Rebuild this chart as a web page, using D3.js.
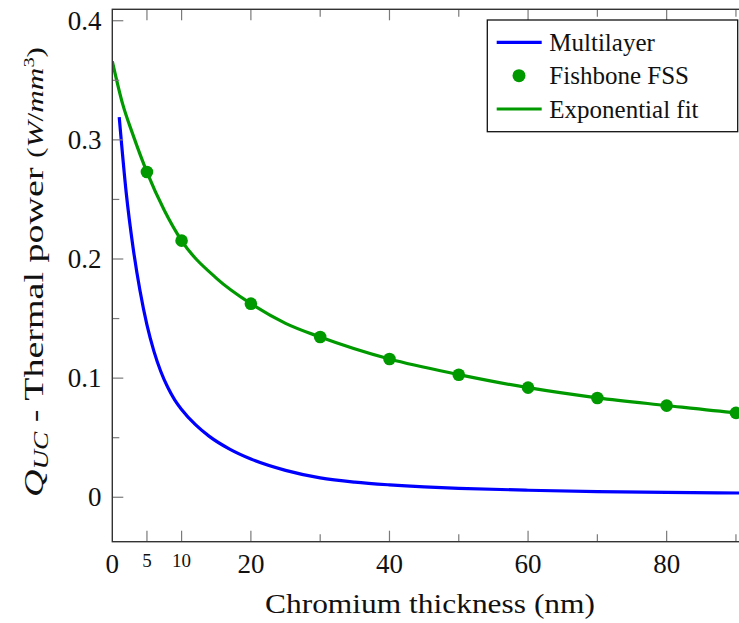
<!DOCTYPE html>
<html>
<head>
<meta charset="utf-8">
<script src="https://cdn.jsdelivr.net/npm/d3@7"></script>
<style>
body { margin: 0; background: #fff; }
text { font-family: "Liberation Serif", "DejaVu Serif", serif; fill: #111; }
</style>
</head>
<body>
<script>
width = 739;
height = 623;

// data
var multiX = [1, 2, 3, 4, 5, 6, 7, 8, 9, 10, 12, 14, 17, 20, 25, 30, 35, 40, 45, 50, 60, 70, 80, 92];
var multiY = [0.319, 0.256, 0.2095, 0.1733, 0.1447, 0.1227, 0.1056, 0.0923, 0.0818, 0.0737, 0.0609, 0.0511, 0.0402, 0.0321, 0.0226, 0.0163, 0.0127, 0.0104, 0.0087, 0.0075, 0.0059, 0.0048, 0.0041, 0.0035];

var fssX = [5, 10, 20, 30, 40, 50, 60, 70, 80, 90];
var fssY = [0.2730, 0.2154, 0.1625, 0.1345, 0.1161, 0.1029, 0.0920, 0.0833, 0.0769, 0.0708];

var fitX = [0, 1.5, 3, 5, 7.5, 10, 15, 20, 25, 30, 40, 50, 60, 70, 80, 90, 92];
var fitY = [0.366, 0.330, 0.304, 0.273, 0.241, 0.2155, 0.184, 0.1625, 0.146, 0.1345, 0.116, 0.103, 0.092, 0.0835, 0.077, 0.0708, 0.0697];

var xMajor = [0, 5, 10, 20, 40, 60, 80];
var xMinor = [30, 50, 70, 90];
var xSmall = [5, 10];
var yMajor = [0, 0.1, 0.2, 0.3, 0.4];
var yMinor = [0.05, 0.15, 0.25, 0.35];

var legendNames = ['Multilayer', 'Fishbone FSS', 'Exponential fit'];

var blue = '#0000ff', green = '#009a00';

svg = d3.select('body')
    .append('svg')
    .attr('width', width)
    .attr('height', height)

var pL = 112.3, pR = 750.5, pT = 9.3, pB = 541.7;

//scales
var xScale = d3.scaleLinear()
    .domain([0, 92.1])
    .range([pL, pR])

var yScale = d3.scaleLinear()
    .domain([-0.0373, 0.4096])
    .range([pB, pT])

svg.append('clipPath')
    .attr('id', 'plot')
    .append('rect')
    .attr('x', pL).attr('y', pT)
    .attr('width', pR - pL).attr('height', pB - pT)

var g = svg.append('g').attr('clip-path', 'url(#plot)')

var line = d3.line()
    .x(d => xScale(d[0]))
    .y(d => yScale(d[1]))
    .curve(d3.curveMonotoneX)

//lines
g.append('path')
    .datum(d3.zip(multiX, multiY))
    .attr('d', line)
    .attr('fill', 'none')
    .attr('stroke', blue)
    .attr('stroke-width', 3.2)

g.append('path')
    .datum(d3.zip(fitX, fitY))
    .attr('d', line)
    .attr('fill', 'none')
    .attr('stroke', green)
    .attr('stroke-width', 3.2)

g.selectAll('circle.fss')
    .data(d3.zip(fssX, fssY))
    .enter().append('circle')
    .attr('class', 'fss')
    .attr('cx', d => xScale(d[0]))
    .attr('cy', d => yScale(d[1]))
    .attr('r', 6.3)
    .attr('fill', green)

//ticks
var tickCol = '#7a7a7a';
function xTicks(vals, len) {
    vals.forEach(function(v) {
        svg.append('line')
            .attr('x1', xScale(v)).attr('x2', xScale(v))
            .attr('y1', pB).attr('y2', pB - len)
            .attr('stroke', tickCol).attr('stroke-width', 1.2)
        svg.append('line')
            .attr('x1', xScale(v)).attr('x2', xScale(v))
            .attr('y1', pT).attr('y2', pT + len)
            .attr('stroke', tickCol).attr('stroke-width', 1.2)
    })
}
xTicks(xMajor.filter(v => v > 0), 11)
xTicks(xMinor, 7.5)

function yTicks(vals, len) {
    vals.forEach(function(v) {
        svg.append('line')
            .attr('x1', pL).attr('x2', pL + len)
            .attr('y1', yScale(v)).attr('y2', yScale(v))
            .attr('stroke', tickCol).attr('stroke-width', 1.2)
    })
}
yTicks(yMajor, 11)
yTicks(yMinor, 7)

//axis frame
svg.append('rect')
    .attr('x', pL).attr('y', pT)
    .attr('width', pR - pL).attr('height', pB - pT)
    .attr('fill', 'none')
    .attr('stroke', '#333')
    .attr('stroke-width', 1.4)

//tick labels
svg.selectAll('text.xl')
    .data(xMajor)
    .enter().append('text')
    .attr('class', 'xl')
    .attr('x', d => xScale(d))
    .attr('y', d => xSmall.includes(d) ? 567 : 573)
    .attr('text-anchor', 'middle')
    .attr('font-size', d => xSmall.includes(d) ? 19 : 27)
    .text(d => d)

svg.selectAll('text.yl')
    .data(yMajor)
    .enter().append('text')
    .attr('class', 'yl')
    .attr('x', 101.5)
    .attr('y', d => yScale(d) + 9)
    .attr('text-anchor', 'end')
    .attr('font-size', 27)
    .text(d => d === 0 ? '0' : d.toFixed(1))

//axis labels
svg.append('text')
    .attr('x', 430)
    .attr('y', 613)
    .attr('text-anchor', 'middle')
    .attr('font-size', 28)
    .attr('textLength', 330)
    .attr('lengthAdjust', 'spacingAndGlyphs')
    .text('Chromium thickness (nm)')

var yl = svg.append('text')
    .attr('transform', 'translate(43,' + 272 + ') rotate(-90)')
    .attr('text-anchor', 'middle')
    .attr('font-size', 28)
    .attr('textLength', 450)
    .attr('lengthAdjust', 'spacingAndGlyphs')
yl.append('tspan').attr('font-style', 'italic').text('Q')
yl.append('tspan').attr('font-style', 'italic').attr('font-size', 20).attr('dy', 5).text('UC')
yl.append('tspan').attr('dy', -5).text(' - Thermal power ')
yl.append('tspan').attr('font-size', 23).text('(')
yl.append('tspan').attr('font-size', 23).attr('font-style', 'italic').text('W')
yl.append('tspan').attr('font-size', 23).text('/')
yl.append('tspan').attr('font-size', 23).attr('font-style', 'italic').text('mm')
yl.append('tspan').attr('font-size', 15).attr('dy', -9).text('3')
yl.append('tspan').attr('font-size', 23).attr('dy', 9).text(')')

//legend
var lg = svg.append('g')
lg.append('rect')
    .attr('x', 487.3).attr('y', 20)
    .attr('width', 250.4).attr('height', 111.7)
    .attr('fill', 'white')
    .attr('stroke', '#111')
    .attr('stroke-width', 1.3)

var rowY = [42.3, 75.7, 109];
lg.append('line')
    .attr('x1', 496.7).attr('x2', 541.7)
    .attr('y1', rowY[0]).attr('y2', rowY[0])
    .attr('stroke', blue).attr('stroke-width', 3.2)
lg.append('circle')
    .attr('cx', 519).attr('cy', rowY[1]).attr('r', 6.5)
    .attr('fill', green)
lg.append('line')
    .attr('x1', 496.7).attr('x2', 541.7)
    .attr('y1', rowY[2]).attr('y2', rowY[2])
    .attr('stroke', green).attr('stroke-width', 3.2)

lg.selectAll('text.leg')
    .data(legendNames)
    .enter().append('text')
    .attr('class', 'leg')
    .attr('x', 549.3)
    .attr('y', (d, i) => rowY[i] + 8.5)
    .attr('font-size', 25)
    .text(d => d)
</script>
</body>
</html>
